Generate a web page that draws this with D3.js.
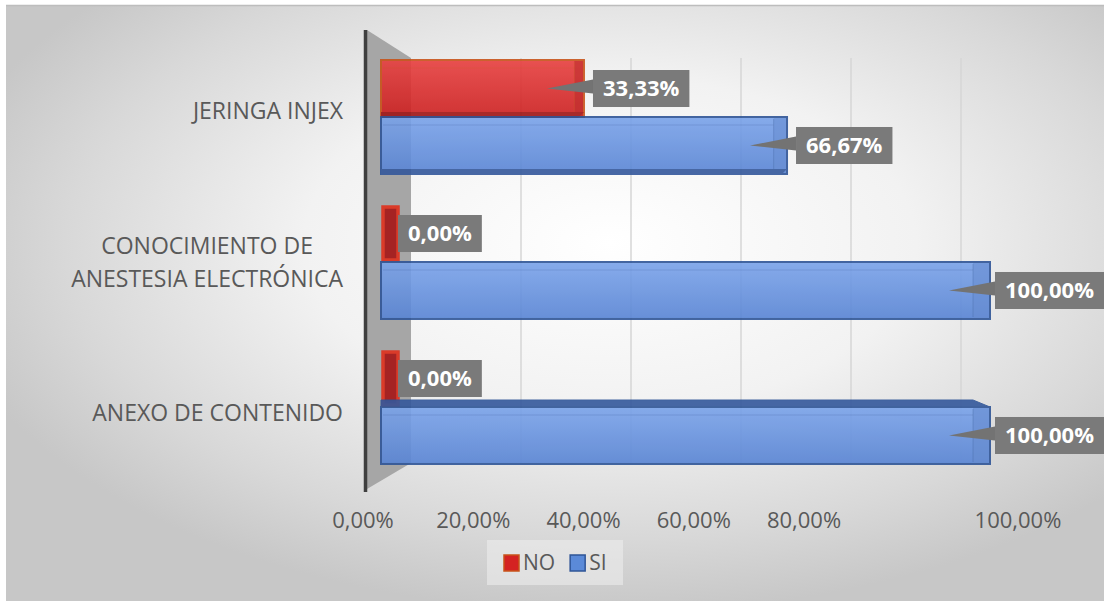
<!DOCTYPE html>
<html>
<head>
<meta charset="utf-8">
<script src="https://cdn.jsdelivr.net/npm/d3@7"></script>
<style>
  html, body { margin: 0; padding: 0; background: #ffffff; }
  svg { display: block; }
</style>
</head>
<body>
<svg id="chart" width="1104" height="601"></svg>
<script>
// ---------------- DATA ----------------
const categories = ["JERINGA INJEX", "CONOCIMIENTO DE ANESTESIA ELECTRÓNICA", "ANEXO DE CONTENIDO"];
const categoryLines = [["JERINGA INJEX"], ["CONOCIMIENTO DE", "ANESTESIA ELECTRÓNICA"], ["ANEXO DE CONTENIDO"]];
const seriesNames = ["NO", "SI"];
const noValues = [0.3333, 0, 0];
const siValues = [0.6667, 1, 1];
const tickValues = [0, 0.2, 0.4, 0.6, 0.8, 1];

// ---------------- SETUP ----------------
const W = 1104, H = 601;
const svg = d3.select("#chart");
const locale = d3.formatLocale({ decimal: ",", thousands: ".", grouping: [3], currency: ["", "€"] });
const pct = locale.format(".2%");

const colors = {
  NO: { top: "#e84040", bottom: "#cc1f1f", stroke: "#c8531a", side: "#b81818", face: "#a01515" },
  SI: { top: "#7aa3ea", bottom: "#5884d4", stroke: "#2f5597", side: "#5a84cf", face: "#34589c" }
};

const defs = svg.append("defs");
const bg = defs.append("radialGradient").attr("id", "bg")
  .attr("cx", "0.55").attr("cy", "0.40").attr("r", "0.62");
bg.append("stop").attr("offset", "0").attr("stop-color", "#ffffff");
bg.append("stop").attr("offset", "0.45").attr("stop-color", "#f2f2f2");
bg.append("stop").attr("offset", "0.8").attr("stop-color", "#d8d8d8");
bg.append("stop").attr("offset", "1").attr("stop-color", "#c7c7c7");
seriesNames.forEach(s => {
  const g = defs.append("linearGradient").attr("id", "g" + s)
    .attr("x1", 0).attr("y1", 0).attr("x2", 0).attr("y2", 1);
  g.append("stop").attr("offset", "0").attr("stop-color", colors[s].top);
  g.append("stop").attr("offset", "1").attr("stop-color", colors[s].bottom);
});

// background & frame
svg.append("rect").attr("x", 6).attr("y", 5).attr("width", W - 6).attr("height", H - 5)
  .attr("fill", "url(#bg)");
svg.append("line").attr("x1", 6).attr("x2", W).attr("y1", 5.5).attr("y2", 5.5)
  .attr("stroke", "#bdbdbd").attr("stroke-width", 1.5);

// ---------------- SCALES ----------------
const y = d3.scaleBand().domain(categories).range([44.5, 479.5]).paddingInner(0.214).paddingOuter(0.107);
const ySub = d3.scaleBand().domain(seriesNames).range([0, y.bandwidth()]);
const x = d3.scaleLinear().domain([0, 1]).range([381, 990]);        // front plane of bars
const xGrid = d3.scaleLinear().domain([0, 1]).range([411, 961]);    // back plane (gridlines)
const xTick = d3.scaleLinear().domain([0, 0.8, 1]).range([363, 804, 1018]); // projected tick labels
const plotTop = 58, plotBottom = 463;
const midY = y(categories[1]) + y.bandwidth() / 2;
const persp = yc => (yc - midY) * 0.04;   // perspective offset

// ---------------- GRID ----------------
svg.append("g").selectAll("line").data(tickValues.filter(d => d > 0)).join("line")
  .attr("x1", d => xGrid(d)).attr("x2", d => xGrid(d))
  .attr("y1", plotTop).attr("y2", plotBottom)
  .attr("stroke", "#d6d6d6").attr("stroke-width", 1.5);

// side wall
svg.append("polygon")
  .attr("points", [[367, 30], [xGrid(0), plotTop], [xGrid(0), plotBottom], [367, 489]].map(p => p.join(",")).join(" "))
  .attr("fill", "#a6a6a6");
svg.append("line").attr("x1", 365.5).attr("x2", 365.5).attr("y1", 30).attr("y2", 492)
  .attr("stroke", "#3f3f3f").attr("stroke-width", 3.5);

// ---------------- BARS ----------------
const rows = [];
categories.forEach((c, i) => {
  rows.push({ cat: c, i, s: "NO", v: noValues[i] });
  rows.push({ cat: c, i, s: "SI", v: siValues[i] });
});

const barsG = svg.append("g");
rows.forEach(d => {
  const g = barsG.append("g").attr("opacity", 0.9);
  const y0 = y(d.cat) + ySub(d.s), y1 = y0 + ySub.bandwidth();
  const x0 = x(0), xf = x(d.v);
  const col = colors[d.s];
  if (d.v === 0) {
    g.append("rect").attr("x", x0 + 2).attr("y", y0 + 2).attr("width", 15).attr("height", y1 - y0 - 4)
      .attr("fill", "#a51515").attr("stroke", "#e0301c").attr("stroke-width", 3.5);
    return;
  }
  const sw = 6 + 11 * d.v;
  // top face (bars below eye level)
  if (d.i === 2) {
    g.append("polygon")
      .attr("points", [[x0, y0 - 7], [xf - sw, y0 - 7], [xf, y0], [x0, y0]].map(p => p.join(",")).join(" "))
      .attr("fill", col.face).attr("stroke", col.stroke).attr("stroke-width", 1);
  }
  // front face
  g.append("rect").attr("x", x0).attr("y", y0).attr("width", xf - x0).attr("height", y1 - y0)
    .attr("fill", "url(#g" + d.s + ")").attr("stroke", col.stroke).attr("stroke-width", 2);
  // right side face
  g.append("rect").attr("x", xf - sw).attr("y", y0 + 1).attr("width", sw - 1).attr("height", y1 - y0 - 2)
    .attr("fill", col.side).attr("opacity", 0.6);
  g.append("line").attr("x1", xf - sw).attr("x2", xf - sw).attr("y1", y0 + 2).attr("y2", y1 - 2)
    .attr("stroke", col.stroke).attr("stroke-opacity", 0.35);
  // top highlight line
  g.append("line").attr("x1", x0 + 2).attr("x2", xf - sw).attr("y1", y0 + 8).attr("y2", y0 + 8)
    .attr("stroke", col.stroke).attr("stroke-opacity", 0.25);
  // bottom face (bars above eye level)
  if (d.i === 0) {
    g.append("polygon")
      .attr("points", [[x0, y1 - 5], [xf, y1 - 5], [xf - 6, y1 + 1], [x0, y1 + 1]].map(p => p.join(",")).join(" "))
      .attr("fill", col.face);
  }
});

// ---------------- CATEGORY LABELS ----------------
const catG = svg.append("g").attr("font-family", "'Open Sans', sans-serif").attr("font-size", 23).attr("fill", "#595959");
categories.forEach((c, i) => {
  const lines = categoryLines[i];
  const yc = y(c) + y.bandwidth() / 2;
  const yl = yc + persp(yc);
  const t = catG.append("text").attr("text-anchor", "middle");
  const spans = lines.map((ln, k) => t.append("tspan").text(ln)
    .attr("y", yl + (k - (lines.length - 1) / 2) * 33).attr("dy", "0.35em"));
  const widths = spans.map(s => s.node().getComputedTextLength());
  const wmax = d3.max(widths);
  spans.forEach(s => s.attr("x", 343 - wmax / 2));
});

// ---------------- X TICK LABELS ----------------
svg.append("g").selectAll("text").data(tickValues).join("text")
  .attr("x", d => xTick(d)).attr("y", 520).attr("dy", "0.35em")
  .attr("text-anchor", "middle")
  .attr("font-family", "'Open Sans', sans-serif").attr("font-size", 22).attr("fill", "#595959")
  .text(d => pct(d));

// ---------------- DATA LABELS (callouts) ----------------
const lblG = svg.append("g");
rows.forEach(d => {
  const yc = y(d.cat) + ySub(d.s) + ySub.bandwidth() / 2;
  const g = lblG.append("g");
  const txt = g.append("text").text(pct(d.v))
    .attr("font-family", "'Open Sans', sans-serif").attr("font-weight", 700).attr("font-size", 22)
    .attr("fill", "#ffffff").attr("dy", "0.35em").attr("y", yc);
  const tw = txt.node().getComputedTextLength();
  const bw = tw + 20, bh = 37;
  const left = Math.min(x(d.v) + (d.v === 0 ? 17 : 9), W - bw);
  if (d.v > 0) {
    g.insert("polygon", "text")
      .attr("points", [[left, yc - 9], [left, yc + 5], [left - 46, yc]].map(p => p.join(",")).join(" "))
      .attr("fill", "#737373");
  }
  g.insert("rect", "text").attr("x", left).attr("y", yc - bh / 2).attr("width", bw).attr("height", bh)
    .attr("fill", "#7a7a7a");
  txt.attr("x", left + 10);
});

// ---------------- LEGEND ----------------
const legG = svg.append("g");
legG.append("rect").attr("x", 487).attr("y", 540).attr("width", 136).attr("height", 45)
  .attr("fill", "#ececec").attr("opacity", 0.6);
let lx = 504;
seriesNames.forEach(s => {
  legG.append("rect").attr("x", lx).attr("y", 555).attr("width", 15).attr("height", 16)
    .attr("fill", s === "NO" ? "#d42222" : "#5b8ad8").attr("stroke", colors[s].stroke).attr("stroke-width", 1.5);
  const t = legG.append("text").attr("x", lx + 19).attr("y", 563).attr("dy", "0.35em")
    .attr("font-family", "'Open Sans', sans-serif").attr("font-size", 21).attr("fill", "#595959").text(s);
  lx += 19 + t.node().getComputedTextLength() + 15;
});
</script>
</body>
</html>
